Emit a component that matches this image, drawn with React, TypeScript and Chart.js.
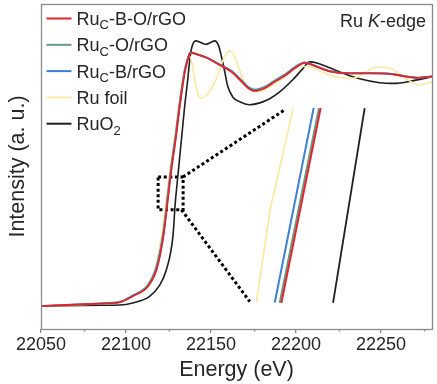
import React, { useEffect, useRef } from "react";
import { Chart, registerables } from "chart.js";

Chart.register(...registerables);

const FONT = '"Liberation Sans", Arial, Helvetica, sans-serif';

// ---- X axis ----
const X_MIN = 22050;
const X_MAX = 22280;
const X_TICKS = [22050, 22100, 22150, 22200, 22250];
const X_MINOR_TICKS = [22075, 22125, 22175, 22225, 22275];
const Y_MIN = -0.1;
const Y_MAX = 1.32;

// ---- Main spectra (normalized intensity) ----
const ENERGY_RUC = [
  22050, 22085, 22096, 22104, 22113, 22118, 22122, 22124.4, 22126.7, 22129.2,
  22131.6, 22134.5, 22136.3, 22137.9, 22141, 22147.5, 22155, 22162, 22167, 22171.6,
  22175.7, 22181.6, 22187.5, 22193.4, 22199.2, 22205.1, 22211, 22219.8, 22231.6, 22243.4,
  22255.1, 22264, 22271.6, 22280,
];
const RUC_B_O = [
  0, 0.011, 0.016, 0.043, 0.087, 0.16, 0.305, 0.451, 0.596, 0.727,
  0.872, 1.018, 1.076, 1.109, 1.102, 1.085, 1.054, 1.024, 0.989, 0.954,
  0.94, 0.952, 0.98, 1.006, 1.039, 1.063, 1.05, 1.026, 1.017, 1.017,
  1.015, 1.004, 0.997, 1.004,
];
const RUC_O = [
  0, 0.011, 0.017, 0.045, 0.09, 0.168, 0.315, 0.462, 0.606, 0.737,
  0.88, 1.024, 1.079, 1.107, 1.101, 1.085, 1.055, 1.026, 0.992, 0.957,
  0.943, 0.955, 0.983, 1.009, 1.041, 1.064, 1.05, 1.026, 1.017, 1.018,
  1.015, 1.004, 0.997, 1.003,
];
const RUC_B = [
  0, 0.012, 0.018, 0.047, 0.093, 0.175, 0.325, 0.475, 0.618, 0.748,
  0.89, 1.03, 1.082, 1.108, 1.102, 1.086, 1.057, 1.028, 0.994, 0.96,
  0.946, 0.958, 0.986, 1.012, 1.044, 1.065, 1.051, 1.027, 1.018, 1.019,
  1.016, 1.005, 0.998, 1.004,
];

const ENERGY_FOIL = [
  22050, 22085, 22096.3, 22102.8, 22111.6, 22116.9, 22120.8, 22123.4, 22125.8, 22128.4,
  22130.9, 22133.9, 22136.0, 22137.2, 22138.6, 22140.4, 22142.2, 22143.9, 22146.9, 22150.4,
  22153.9, 22156.9, 22159.2, 22161.0, 22163.4, 22166.3, 22169.8, 22173.4, 22177.5, 22182.2,
  22187.5, 22196.3, 22202.2, 22208.1, 22213.9, 22222.8, 22233.4, 22240.4, 22247.2, 22254.9,
  22260.8, 22266.7, 22272.6, 22280,
];
const RU_FOIL = [
  0, 0.01, 0.018, 0.042, 0.086, 0.16, 0.305, 0.451, 0.596, 0.727,
  0.872, 1.018, 1.076, 1.094, 1.068, 0.989, 0.932, 0.908, 0.919, 0.954,
  1.006, 1.072, 1.106, 1.115, 1.098, 1.041, 0.976, 0.945, 0.937, 0.949,
  0.971, 1.019, 1.048, 1.045, 1.028, 1.002, 0.995, 1.019, 1.045, 1.041,
  1.015, 0.984, 0.967, 0.98,
];

const ENERGY_RUO2 = [
  22050, 22085, 22096.3, 22103.9, 22113.9, 22119.4, 22123.8, 22127.6, 22129.0, 22130.7,
  22132.6, 22134.5, 22136.3, 22137.5, 22138.6, 22141.0, 22143.9, 22146.9, 22149.8, 22152.2,
  22154.5, 22156.3, 22158.1, 22159.8, 22162.8, 22166.9, 22172.8, 22178.7, 22184.5, 22190.4,
  22198.1, 22203.4, 22208.1, 22212.8, 22219.8, 22228.6, 22237.5, 22249.2, 22258.0, 22266.9,
  22280,
];
const RUO2 = [
  0, 0.004, 0.005, 0.014, 0.043, 0.087, 0.16, 0.305, 0.452, 0.583,
  0.727, 0.872, 0.989, 1.076, 1.128, 1.159, 1.152, 1.144, 1.152, 1.159,
  1.137, 1.085, 1.024, 0.962, 0.914, 0.893, 0.88, 0.888, 0.906, 0.936,
  0.989, 1.032, 1.067, 1.061, 1.041, 1.015, 0.993, 0.976, 0.973, 0.982,
  1.002,
];

// ---- Magnified inset (edge region) ----
const INSET_FOIL_E = [22198.2, 22187.5, 22185.1, 22176.7];
const INSET_FOIL_I = [0.861, 0.509, 0.436, 0.017];
const INSET_RUC_B_E = [22210.4, 22187.5];
const INSET_RUC_B_I = [0.866, 0.016];
const INSET_RUC_O_E = [22213.5, 22190.4];
const INSET_RUC_O_I = [0.865, 0.014];
const INSET_RUC_B_O_E = [22214.5, 22191.4];
const INSET_RUC_B_O_I = [0.865, 0.014];
const INSET_RUO2_E = [22240.4, 22221.8];
const INSET_RUO2_I = [0.865, 0.014];

// zoom box and its connector lines
const ZOOM_BOX_E = [22118.9, 22133.6];
const ZOOM_BOX_I = [0.421, 0.564];
const LINK_TOP_E = [22133.5, 22193.4];
const LINK_TOP_I = [0.564, 0.858];
const LINK_BOTTOM_E = [22132.6, 22172.8];
const LINK_BOTTOM_I = [0.421, 0.02];

// ---- Labels & colors ----
const SERIES_LABELS = ["Ru_C-B-O/rGO", "Ru_C-O/rGO", "Ru_C-B/rGO", "Ru foil", "RuO_2"];
const SERIES_COLORS = ["#e3222f", "#5f9e80", "#3f7fd3", "#f6eba8", "#1e1e1e"];
const X_TITLE = "Energy (eV)";
const Y_TITLE = "Intensity (a. u.)";
const EDGE_PARTS = ["Ru ", "K", "-edge"];

const pts = (xs: number[], ys: number[]) => xs.map((x, i) => ({ x, y: ys[i] }));

function drawRich(ctx: CanvasRenderingContext2D, x: number, y: number, label: string, size: number) {
  // "_X" renders X as subscript
  let cx = x;
  let i = 0;
  while (i < label.length) {
    if (label[i] === "_" && i + 1 < label.length) {
      ctx.font = `${Math.round(size * 0.7)}px ${FONT}`;
      ctx.fillText(label[i + 1], cx, y + size * 0.25);
      cx += ctx.measureText(label[i + 1]).width;
      i += 2;
    } else {
      let j = i;
      while (j < label.length && label[j] !== "_") j++;
      const s = label.slice(i, j);
      ctx.font = `${size}px ${FONT}`;
      ctx.fillText(s, cx, y);
      cx += ctx.measureText(s).width;
      i = j;
    }
  }
}

const decorPlugin = {
  id: "decor",
  afterDraw(chart: any) {
    const ctx: CanvasRenderingContext2D = chart.ctx;
    const a = chart.chartArea;
    const xs = chart.scales.x;
    ctx.save();
    // frame
    ctx.strokeStyle = "#8a8a8a";
    ctx.lineWidth = 1.3;
    ctx.strokeRect(a.left + 0.5, a.top + 0.5, a.right - a.left, a.bottom - a.top);
    // minor ticks
    ctx.beginPath();
    X_MINOR_TICKS.forEach((v) => {
      const px = Math.round(xs.getPixelForValue(v)) + 0.5;
      ctx.moveTo(px, a.bottom);
      ctx.lineTo(px, a.bottom + 2.5);
    });
    ctx.stroke();

    // legend
    ctx.fillStyle = "#262626";
    ctx.textBaseline = "alphabetic";
    ctx.textAlign = "left";
    SERIES_LABELS.forEach((lab, i) => {
      const cy = 18.5 + i * 26.3;
      ctx.strokeStyle = SERIES_COLORS[i];
      ctx.lineWidth = 2;
      ctx.beginPath();
      ctx.moveTo(a.left + 5.5, cy);
      ctx.lineTo(a.left + 30.5, cy);
      ctx.stroke();
      drawRich(ctx, a.left + 35.5, cy + 6.4, lab, 18);
    });

    // Ru K-edge
    ctx.font = `18px ${FONT}`;
    const w0 = ctx.measureText(EDGE_PARTS[0]).width;
    const w2 = ctx.measureText(EDGE_PARTS[2]).width;
    ctx.font = `italic 18px ${FONT}`;
    const w1 = ctx.measureText(EDGE_PARTS[1]).width;
    let ex = a.right - 6 - (w0 + w1 + w2);
    const ey = a.top + 22.5;
    ctx.font = `18px ${FONT}`;
    ctx.fillText(EDGE_PARTS[0], ex, ey);
    ex += w0;
    ctx.font = `italic 18px ${FONT}`;
    ctx.fillText(EDGE_PARTS[1], ex, ey);
    ex += w1;
    ctx.font = `18px ${FONT}`;
    ctx.fillText(EDGE_PARTS[2], ex, ey);

    // axis titles
    ctx.fillStyle = "#262626";
    ctx.font = `21.5px ${FONT}`;
    ctx.textAlign = "center";
    ctx.textBaseline = "middle";
    ctx.fillText(X_TITLE, (a.left + a.right) / 2, 370);
    ctx.save();
    ctx.translate(18, (a.top + a.bottom) / 2);
    ctx.rotate(-Math.PI / 2);
    ctx.fillText(Y_TITLE, 0, 0);
    ctx.restore();
    ctx.restore();
  },
};

export default function App() {
  const ref = useRef<HTMLCanvasElement | null>(null);
  useEffect(() => {
    document.body.style.margin = "0";
    const canvas = ref.current;
    if (!canvas) return;
    const line = (data: any, color: string, width: number, extra: any = {}) => ({
      data,
      borderColor: color,
      backgroundColor: color,
      borderWidth: width,
      pointRadius: 0,
      fill: false,
      ...extra,
    });
    const smooth = { cubicInterpolationMode: "monotone" };
    const dotted = { borderDash: [3, 2.6], borderCapStyle: "butt", tension: 0 };
    const boxE = [ZOOM_BOX_E[0], ZOOM_BOX_E[1], ZOOM_BOX_E[1], ZOOM_BOX_E[0], ZOOM_BOX_E[0]];
    const boxI = [ZOOM_BOX_I[1], ZOOM_BOX_I[1], ZOOM_BOX_I[0], ZOOM_BOX_I[0], ZOOM_BOX_I[1]];
    const chart = new Chart(canvas, {
      type: "line",
      data: {
        datasets: [
          line(pts(ENERGY_RUC, RUC_B_O), SERIES_COLORS[0], 1.8, smooth),
          line(pts(ENERGY_RUC, RUC_O), SERIES_COLORS[1], 1.8, smooth),
          line(pts(ENERGY_RUC, RUC_B), SERIES_COLORS[2], 1.8, smooth),
          line(pts(ENERGY_FOIL, RU_FOIL), SERIES_COLORS[3], 1.6, smooth),
          line(pts(ENERGY_RUO2, RUO2), SERIES_COLORS[4], 1.6, smooth),
          line(pts(INSET_RUC_B_O_E, INSET_RUC_B_O_I), SERIES_COLORS[0], 2),
          line(pts(INSET_RUC_O_E, INSET_RUC_O_I), SERIES_COLORS[1], 2),
          line(pts(INSET_RUC_B_E, INSET_RUC_B_I), SERIES_COLORS[2], 2),
          line(pts(INSET_FOIL_E, INSET_FOIL_I), SERIES_COLORS[3], 1.8),
          line(pts(INSET_RUO2_E, INSET_RUO2_I), SERIES_COLORS[4], 1.8),
          line(pts(boxE, boxI), "#000", 3, dotted),
          line(pts(LINK_TOP_E, LINK_TOP_I), "#000", 3, dotted),
          line(pts(LINK_BOTTOM_E, LINK_BOTTOM_I), "#000", 3, dotted),
        ],
      },
      options: {
        responsive: false,
        animation: false,
        devicePixelRatio: 1,
        layout: { padding: { top: 4, right: 5, left: 0, bottom: 0 } },
        plugins: { legend: { display: false }, tooltip: { enabled: false } },
        scales: {
          x: {
            type: "linear",
            min: X_MIN,
            max: X_MAX,
            afterBuildTicks: (s: any) => {
              s.ticks = X_TICKS.map((v) => ({ value: v }));
            },
            afterFit: (s: any) => {
              s.height = 55;
            },
            grid: { drawOnChartArea: false, drawTicks: true, tickLength: 4, color: "#8a8a8a", lineWidth: 1.3 },
            border: { display: false },
            ticks: {
              font: { family: FONT, size: 18 },
              color: "#262626",
              padding: 1,
              maxRotation: 0,
              autoSkip: false,
              callback: (v: any) => String(v),
            },
          },
          y: {
            min: Y_MIN,
            max: Y_MAX,
            afterFit: (s: any) => {
              s.width = 41;
            },
            grid: { display: false },
            border: { display: false },
            ticks: { display: false },
          },
        },
      },
      plugins: [decorPlugin],
    } as any);
    return () => chart.destroy();
  }, []);
  return (
    <div style={{ position: "absolute", left: 0, top: 0, width: 437, height: 384 }}>
      <canvas ref={ref} width={437} height={384} />
    </div>
  );
}
